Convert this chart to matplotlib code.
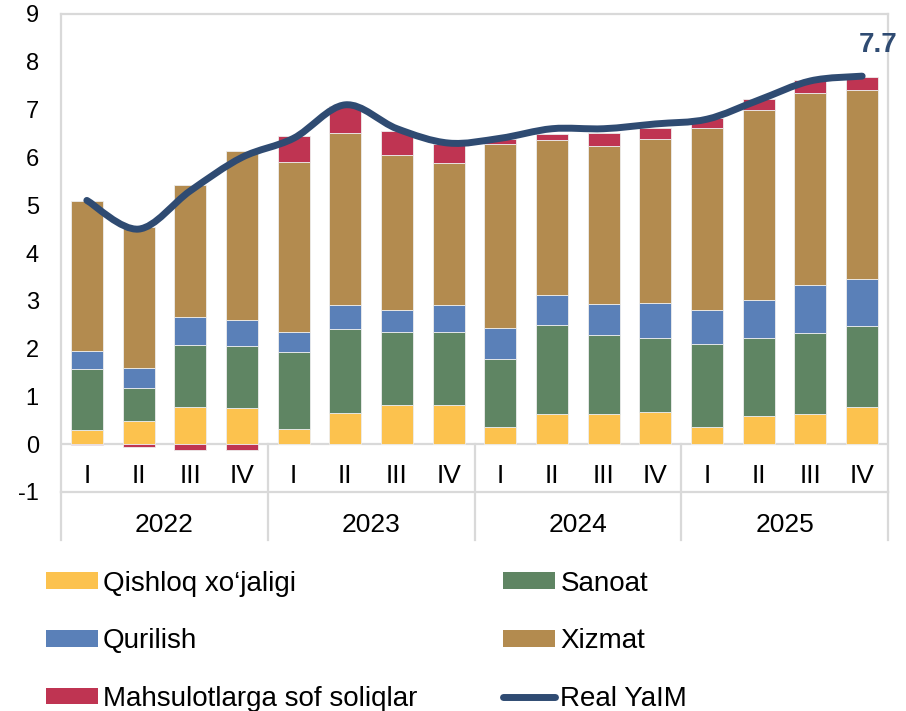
import matplotlib
matplotlib.use("Agg")
import matplotlib.pyplot as plt
from matplotlib.path import Path
from matplotlib.patches import PathPatch, Patch
from matplotlib.lines import Line2D
import numpy as np

plt.rcParams['font.family'] = ['Liberation Sans', 'DejaVu Sans']

years = ["2022", "2023", "2024", "2025"]
quarters = ["I", "II", "III", "IV"]

agri = [0.30, 0.49, 0.78, 0.76, 0.32, 0.65, 0.81, 0.82, 0.37, 0.63, 0.63, 0.67, 0.36, 0.59, 0.63, 0.78]
industry = [1.28, 0.69, 1.29, 1.30, 1.60, 1.77, 1.54, 1.53, 1.41, 1.86, 1.65, 1.55, 1.74, 1.64, 1.69, 1.69]
construction = [0.37, 0.41, 0.59, 0.53, 0.43, 0.49, 0.45, 0.56, 0.65, 0.64, 0.66, 0.73, 0.70, 0.78, 1.01, 0.98]
services = [3.13, 2.96, 2.77, 3.54, 3.55, 3.60, 3.25, 2.98, 3.85, 3.23, 3.30, 3.44, 3.82, 3.98, 4.02, 3.95]
taxes = [-0.02, -0.05, -0.13, -0.13, 0.54, 0.57, 0.50, 0.39, 0.10, 0.12, 0.26, 0.23, 0.20, 0.24, 0.27, 0.28]
real_gdp = [5.1, 4.5, 5.3, 6.0, 6.4, 7.1, 6.6, 6.3, 6.4, 6.6, 6.6, 6.7, 6.8, 7.2, 7.6, 7.7]

series = [
    ("Qishloq xo\u2018jaligi", agri, "#FCC24E"),
    ("Sanoat", industry, "#5F8563"),
    ("Qurilish", construction, "#5A80B8"),
    ("Xizmat", services, "#B38B4F"),
    ("Mahsulotlarga sof soliqlar", taxes, "#BF3452"),
]
line_color = "#2F4B72"
grid_color = "#D9D9D9"

W, H = 906, 711
fig = plt.figure(figsize=(W / 100, H / 100), dpi=100)
ax = fig.add_axes([61 / W, (H - 492) / H, (888 - 61) / W, (492 - 14) / H])

n = len(agri)
x = np.arange(n)
pos_base = np.zeros(n)
neg_base = np.zeros(n)
for name, vals, col in series:
    v = np.array(vals)
    bottoms = np.where(v >= 0, pos_base, neg_base)
    ax.bar(x, v, bottom=bottoms, width=0.62, color=col, edgecolor="#EDEDED",
           linewidth=0.6, zorder=2)
    pos_base = pos_base + np.where(v >= 0, v, 0)
    neg_base = neg_base + np.where(v < 0, v, 0)

# Excel-like smoothed line (Bezier through points)
P = np.column_stack([x, real_gdp]).astype(float)
verts = [tuple(P[0])]
codes = [Path.MOVETO]
for i in range(n - 1):
    p_prev = P[i - 1] if i > 0 else P[i]
    p_next2 = P[i + 2] if i + 2 < n else P[i + 1]
    c1 = P[i] + (P[i + 1] - p_prev) / 6.0
    c2 = P[i + 1] - (p_next2 - P[i]) / 6.0
    verts += [tuple(c1), tuple(c2), tuple(P[i + 1])]
    codes += [Path.CURVE4] * 3
path = Path(verts, codes)
ax.add_patch(PathPatch(path, facecolor="none", edgecolor=line_color, lw=5,
                       capstyle="round", joinstyle="round", zorder=4))

ax.text(x[-1] + 0.3, 8.35, f"{real_gdp[-1]:.1f}", color=line_color, fontsize=20,
        fontweight="bold", ha="center", va="center", zorder=5, clip_on=False)

ax.set_xlim(-0.5, n - 0.5)
ax.set_ylim(-1, 9)
ax.set_yticks(range(-1, 10))
ax.set_yticklabels([str(v) for v in range(-1, 10)], fontsize=17)
ax.tick_params(axis="y", length=0, pad=16)
ax.set_xticks([])

for s in ["top", "left", "right", "bottom"]:
    ax.spines[s].set_color(grid_color)
    ax.spines[s].set_linewidth(1.6)
ax.axhline(0, color=grid_color, lw=1.6, zorder=1)

# category axis (quarters + years)
lo = -2.0
for xb in [-0.5, n - 0.5]:
    ax.plot([xb, xb], [-1, lo], color=grid_color, lw=1.6, clip_on=False)
for k in range(1, len(years)):
    xb = 4 * k - 0.5
    ax.plot([xb, xb], [0, lo], color=grid_color, lw=1.6, clip_on=False)
for i in range(n):
    ax.text(x[i], -0.66, quarters[i % 4], ha="center", va="center", fontsize=19,
            clip_on=False)
for k, yr in enumerate(years):
    ax.text(4 * k + 1.5, -1.68, yr, ha="center", va="center", fontsize=19,
            clip_on=False)

# legend
handles = []
for name, vals, col in series:
    handles.append(Patch(facecolor=col, edgecolor="none", label=name))
line_handle = Line2D([], [], color=line_color, lw=5, solid_capstyle="round", label="Real YaIM")
order = [handles[0], handles[2], handles[4], handles[1], handles[3], line_handle]
fig.legend(handles=order, labels=[h.get_label() for h in order], ncol=2,
           loc="upper left", bbox_to_anchor=(40.5 / W, 1 - 565 / H), frameon=False,
           fontsize=20, handlelength=1.87, handleheight=0.55, handletextpad=0.18,
           labelspacing=1.14, columnspacing=3.1, borderaxespad=0, borderpad=0.2)

fig.savefig("out.png", dpi=100)
